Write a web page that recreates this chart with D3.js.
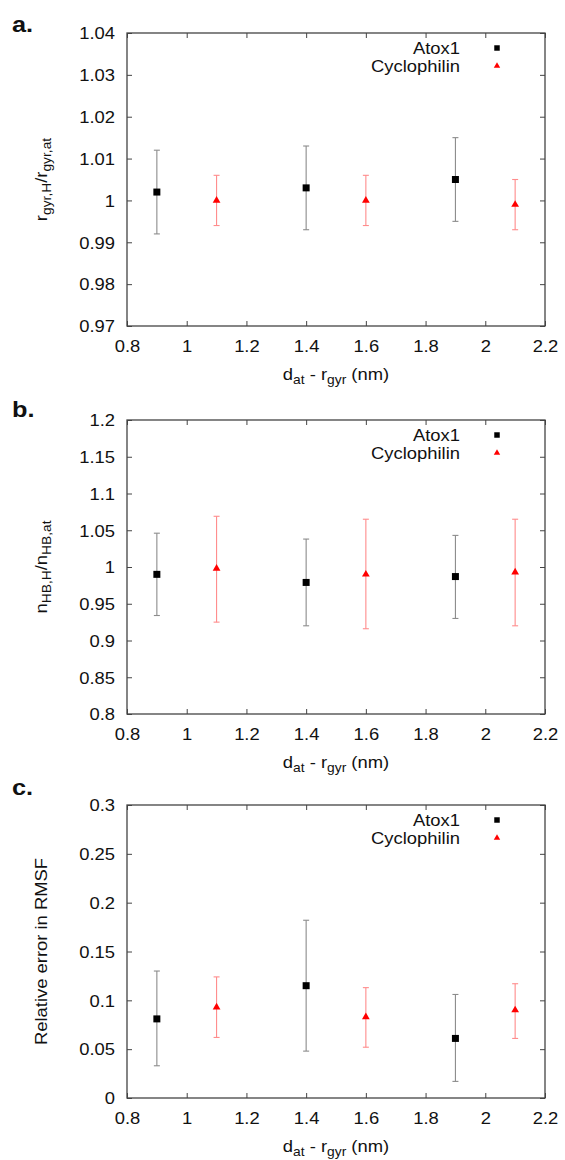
<!DOCTYPE html>
<html><head><meta charset="utf-8">
<script src="https://cdn.jsdelivr.net/npm/d3@7"></script>
<style>
body{margin:0;background:#fff}
text{font-family:"Liberation Sans",Arial,Helvetica,sans-serif;fill:#111}
</style>
</head><body>
<svg id="chart" width="565" height="1160"></svg>
<script>
// ---------- data ----------
const seriesNames = ["Atox1", "Cyclophilin"];
const xTicks = [0.8, 1, 1.2, 1.4, 1.6, 1.8, 2, 2.2];
const atoxX = [0.9, 1.4, 1.9];
const cycX = [1.1, 1.6, 2.1];

// panel a: r_gyr,H / r_gyr,at
const aTicks = [0.97, 0.98, 0.99, 1, 1.01, 1.02, 1.03, 1.04];
const aAtox = [1.002, 1.003, 1.005];
const aAtoxLo = [0.992, 0.993, 0.995];
const aAtoxHi = [1.012, 1.013, 1.015];
const aCyc = [1.000, 1.000, 0.999];
const aCycLo = [0.994, 0.994, 0.993];
const aCycHi = [1.006, 1.006, 1.005];

// panel b: n_HB,H / n_HB,at
const bTicks = [0.8, 0.85, 0.9, 0.95, 1, 1.05, 1.1, 1.15, 1.2];
const bAtox = [0.990, 0.979, 0.987];
const bAtoxLo = [0.934, 0.920, 0.930];
const bAtoxHi = [1.046, 1.038, 1.043];
const bCyc = [0.998, 0.990, 0.993];
const bCycLo = [0.925, 0.916, 0.920];
const bCycHi = [1.069, 1.065, 1.065];

// panel c: relative error in RMSF
const cTicks = [0, 0.05, 0.1, 0.15, 0.2, 0.25, 0.3];
const cAtox = [0.081, 0.115, 0.061];
const cAtoxLo = [0.033, 0.048, 0.017];
const cAtoxHi = [0.130, 0.182, 0.106];
const cCyc = [0.093, 0.083, 0.090];
const cCycLo = [0.062, 0.052, 0.061];
const cCycHi = [0.124, 0.113, 0.117];

// ---------- drawing ----------
const SX = 1.15;           // horizontal text stretch
const FS = 16;
const X0 = 127, X1 = 545;
const svg = d3.select("#chart");
const x = d3.scaleLinear().domain([xTicks[0], xTicks[xTicks.length - 1]]).range([X0, X1]);
const fmt = v => String(+v.toFixed(3));

function stretch(sel) {
  sel.each(function () {
    const t = d3.select(this);
    const tx = +t.attr("x") || 0, ty = +t.attr("y") || 0;
    t.attr("x", 0).attr("y", 0)
     .attr("transform", `translate(${tx},${ty}) scale(${SX},1)`);
  });
}

function richText(parent, parts, sub) {
  // parts: [[text, isSub], ...]
  parts.forEach(([s, isSub], i) => {
    const prevSub = i > 0 && parts[i - 1][1];
    let dy = 0;
    if (isSub && !prevSub) dy = 4;
    if (!isSub && prevSub) dy = -4;
    parent.append("tspan").attr("dy", dy).attr("font-size", isSub ? sub : FS).text(s);
  });
}

function panel(p) {
  const y = d3.scaleLinear().domain([p.ticks[0], p.ticks[p.ticks.length - 1]]).range([p.bottom, p.top]);
  const g = svg.append("g");
  const axCol = "#444";

  // bottom axis
  const bx = g.append("g").attr("transform", `translate(0,${p.bottom})`)
    .call(d3.axisBottom(x).tickValues(xTicks).tickSize(-5).tickSizeOuter(0).tickFormat(fmt));
  bx.selectAll("text").attr("y", 26).attr("dy", null).attr("font-size", FS).call(stretch);
  // top axis (mirror ticks)
  g.append("g").attr("transform", `translate(0,${p.top})`)
    .call(d3.axisTop(x).tickValues(xTicks).tickSize(-5).tickSizeOuter(0).tickFormat(""));
  // left axis
  const ly = g.append("g").attr("transform", `translate(${X0},0)`)
    .call(d3.axisLeft(y).tickValues(p.ticks).tickSize(-5).tickSizeOuter(0).tickPadding(12).tickFormat(fmt));
  ly.selectAll("text").attr("font-size", FS).attr("dy", "0.36em").call(stretch);
  // right axis
  g.append("g").attr("transform", `translate(${X1},0)`)
    .call(d3.axisRight(y).tickValues(p.ticks).tickSize(-5).tickSizeOuter(0).tickFormat(""));
  g.selectAll(".domain").remove();
  g.selectAll(".tick line").attr("stroke", axCol).attr("stroke-width", 1);
  g.selectAll(".tick text").attr("fill", "#111").attr("font-family", null);
  g.append("rect").attr("x", X0).attr("y", p.top).attr("width", X1 - X0).attr("height", p.bottom - p.top)
    .attr("fill", "none").attr("stroke", axCol).attr("stroke-width", 1.3);

  // panel letter
  g.append("text").attr("x", 12).attr("y", p.letterY).attr("font-size", 22).attr("font-weight", "bold")
    .text(p.letter).call(stretch);

  // x title
  const xt = g.append("text").attr("x", (X0 + X1) / 2).attr("y", p.bottom + 54).attr("text-anchor", "middle")
    .attr("font-size", FS);
  richText(xt, [["d", false], ["at", true], [" - r", false], ["gyr", true], [" (nm)", false]], 12);
  stretch(xt);

  // y title
  const cy = (p.top + p.bottom) / 2;
  const yt = g.append("text").attr("text-anchor", "middle").attr("font-size", FS)
    .attr("transform", `translate(47,${cy}) rotate(-90) scale(${SX},1)`);
  richText(yt, p.ylabel, 12);

  // error bars + points
  const series = [
    { xs: atoxX, v: p.atox, lo: p.atoxLo, hi: p.atoxHi, bar: "#8c8c8c", col: "#000", sym: "square" },
    { xs: cycX, v: p.cyc, lo: p.cycLo, hi: p.cycHi, bar: "#ff8c8c", col: "#ff0000", sym: "tri" }
  ];
  series.forEach(s => {
    const d = s.xs.map((xv, i) => ({ x: xv, v: s.v[i], lo: s.lo[i], hi: s.hi[i] }));
    const eg = g.append("g").attr("stroke", s.bar).attr("stroke-width", 1.1);
    eg.selectAll("line.v").data(d).join("line")
      .attr("x1", e => x(e.x)).attr("x2", e => x(e.x)).attr("y1", e => y(e.lo)).attr("y2", e => y(e.hi));
    eg.selectAll("line.lo").data(d).join("line")
      .attr("x1", e => x(e.x) - 3).attr("x2", e => x(e.x) + 3).attr("y1", e => y(e.lo)).attr("y2", e => y(e.lo));
    eg.selectAll("line.hi").data(d).join("line")
      .attr("x1", e => x(e.x) - 3).attr("x2", e => x(e.x) + 3).attr("y1", e => y(e.hi)).attr("y2", e => y(e.hi));
    const sym = s.sym === "square" ? d3.symbol(d3.symbolSquare, 49) : d3.symbol(d3.symbolTriangle, 26);
    g.append("g").selectAll("path").data(d).join("path")
      .attr("transform", e => `translate(${x(e.x)},${y(e.v)})`).attr("d", sym).attr("fill", s.col);
  });

  // legend
  const leg = [
    { name: seriesNames[0], col: "#000", sym: d3.symbol(d3.symbolSquare, 30) },
    { name: seriesNames[1], col: "#ff0000", sym: d3.symbol(d3.symbolTriangle, 18) }
  ];
  leg.forEach((l, i) => {
    const ry = p.top + 15 + i * 18;
    g.append("text").attr("x", 460).attr("y", ry).attr("dy", "0.36em").attr("text-anchor", "end")
      .attr("font-size", FS).text(l.name).call(stretch);
    g.append("path").attr("transform", `translate(497,${ry})`).attr("d", l.sym).attr("fill", l.col);
  });
}

panel({ top: 33, bottom: 326, ticks: aTicks, letter: "a.", letterY: 32,
  atox: aAtox, atoxLo: aAtoxLo, atoxHi: aAtoxHi, cyc: aCyc, cycLo: aCycLo, cycHi: aCycHi,
  ylabel: [["r", false], ["gyr,H", true], ["/r", false], ["gyr,at", true]] });
panel({ top: 420, bottom: 714, ticks: bTicks, letter: "b.", letterY: 417,
  atox: bAtox, atoxLo: bAtoxLo, atoxHi: bAtoxHi, cyc: bCyc, cycLo: bCycLo, cycHi: bCycHi,
  ylabel: [["n", false], ["HB,H", true], ["/n", false], ["HB,at", true]] });
panel({ top: 805, bottom: 1098, ticks: cTicks, letter: "c.", letterY: 795,
  atox: cAtox, atoxLo: cAtoxLo, atoxHi: cAtoxHi, cyc: cCyc, cycLo: cCycLo, cycHi: cCycHi,
  ylabel: [["Relative error in RMSF", false]] });
</script>
</body></html>
